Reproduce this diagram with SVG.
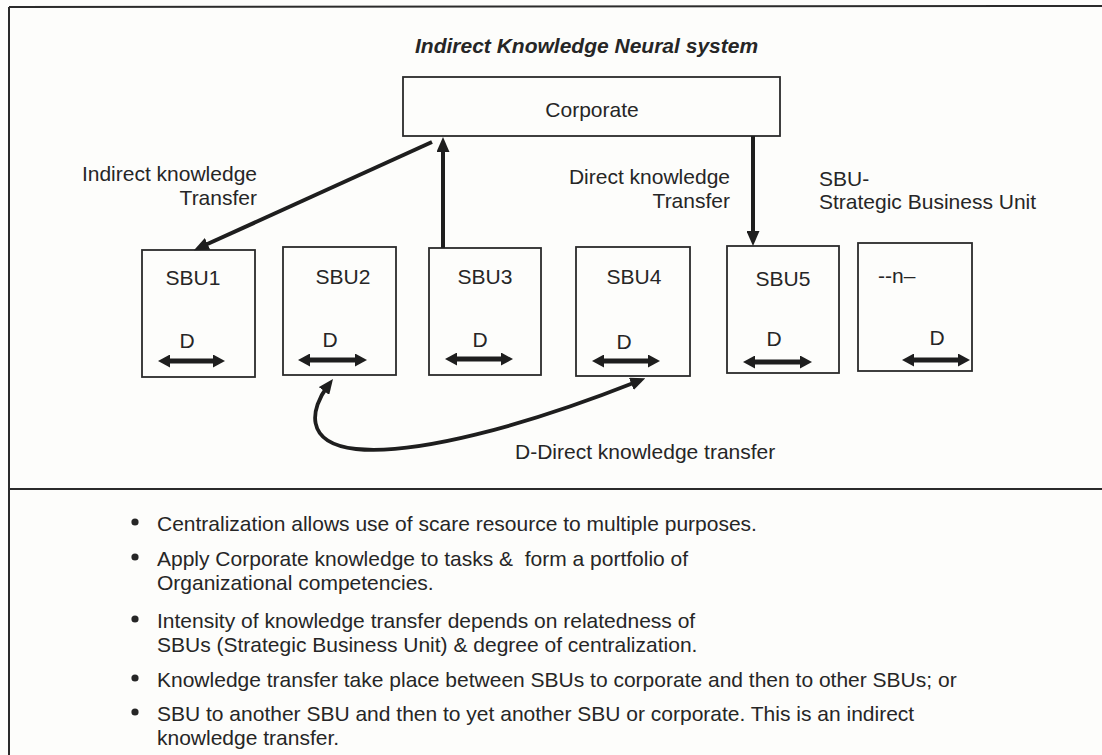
<svg xmlns="http://www.w3.org/2000/svg" width="1102" height="755" viewBox="0 0 1102 755">
  <style>
    text { font-family: "Liberation Sans", Arial, sans-serif; font-size: 21px; fill: #262626; }
    .title { font-weight: bold; font-style: italic; }
    .box { fill: none; stroke: #2b2b2b; stroke-width: 1.8; }
    .frame { stroke: #2b2b2b; stroke-width: 2; fill: none; }
    .conn { stroke: #1e1e1e; stroke-width: 4; fill: none; }
    .dbl { stroke: #1e1e1e; stroke-width: 5; fill: none; }
    .curve { stroke: #1e1e1e; stroke-width: 3.8; fill: none; }
    .mid { text-anchor: middle; }
    .end { text-anchor: end; }
  </style>
  <defs>
    <marker id="head" markerUnits="userSpaceOnUse" viewBox="0 0 15 13" refX="5" refY="6.5" markerWidth="15" markerHeight="13" orient="auto-start-reverse">
      <path d="M0,0 L15,6.5 L0,13 z" fill="#1e1e1e"/>
    </marker>
    <marker id="dhead" markerUnits="userSpaceOnUse" viewBox="0 0 12 13" refX="4" refY="6.5" markerWidth="12" markerHeight="13" orient="auto-start-reverse">
      <path d="M0,0 L12,6.5 L0,13 z" fill="#1e1e1e"/>
    </marker>
  </defs>

  <rect width="1102" height="755" fill="#fdfdfb"/>

  <!-- outer frame: top and left edges, plus the divider above the notes -->
  <g id="frame">
    <line class="frame" x1="9" y1="7" x2="1102" y2="6"/>
    <line class="frame" x1="9" y1="7" x2="9" y2="755"/>
    <line class="frame" x1="9" y1="489" x2="1102" y2="489"/>
  </g>

  <text class="title" x="415" y="53">Indirect Knowledge Neural system</text>

  <g id="corporate">
    <rect class="box" x="403" y="77" width="377" height="59"/>
    <text class="mid" x="592" y="117">Corporate</text>
  </g>

  <g id="sbu1">
    <rect class="box" x="142" y="250" width="113" height="127"/>
    <text class="mid" x="193" y="285">SBU1</text>
    <text class="mid" x="187" y="348">D</text>
    <line class="dbl" x1="166" y1="361" x2="217" y2="361" marker-start="url(#dhead)" marker-end="url(#dhead)"/>
  </g>
  <g id="sbu2">
    <rect class="box" x="283" y="247" width="113" height="128"/>
    <text class="mid" x="343" y="284">SBU2</text>
    <text class="mid" x="330" y="347">D</text>
    <line class="dbl" x1="306" y1="360" x2="359" y2="360" marker-start="url(#dhead)" marker-end="url(#dhead)"/>
  </g>
  <g id="sbu3">
    <rect class="box" x="429" y="248" width="112" height="127"/>
    <text class="mid" x="485" y="284">SBU3</text>
    <text class="mid" x="480" y="347">D</text>
    <line class="dbl" x1="453" y1="359" x2="505" y2="359" marker-start="url(#dhead)" marker-end="url(#dhead)"/>
  </g>
  <g id="sbu4">
    <rect class="box" x="576" y="247" width="114" height="129"/>
    <text class="mid" x="634" y="284">SBU4</text>
    <text class="mid" x="624" y="349">D</text>
    <line class="dbl" x1="600" y1="361" x2="652" y2="361" marker-start="url(#dhead)" marker-end="url(#dhead)"/>
  </g>
  <g id="sbu5">
    <rect class="box" x="727" y="246" width="112" height="127"/>
    <text class="mid" x="783" y="286">SBU5</text>
    <text class="mid" x="774" y="346">D</text>
    <line class="dbl" x1="751" y1="362" x2="804" y2="362" marker-start="url(#dhead)" marker-end="url(#dhead)"/>
  </g>
  <g id="sbu-n">
    <rect class="box" x="858" y="243" width="114" height="128"/>
    <text x="878" y="283">--n–</text>
    <text class="mid" x="937" y="345">D</text>
    <line class="dbl" x1="910" y1="360" x2="962" y2="360" marker-start="url(#dhead)" marker-end="url(#dhead)"/>
  </g>

  <!-- transfer labels -->
  <g id="labels">
    <text class="end" x="257" y="181">Indirect knowledge</text>
    <text class="end" x="257" y="205">Transfer</text>
    <text class="end" x="730" y="184">Direct knowledge</text>
    <text class="end" x="730" y="208">Transfer</text>
    <text x="819" y="186">SBU-</text>
    <text x="819" y="209">Strategic Business Unit</text>
    <text x="515" y="459">D-Direct knowledge transfer</text>
  </g>

  <g id="connectors">
    <!-- corporate down to SBU1 -->
    <line class="conn" x1="432" y1="142" x2="203" y2="246" marker-end="url(#head)"/>
    <!-- SBU3 up to corporate -->
    <line class="conn" x1="443" y1="248" x2="443" y2="147" marker-end="url(#head)"/>
    <!-- corporate down to SBU5 -->
    <line class="conn" x1="753" y1="136" x2="753" y2="236" marker-end="url(#head)"/>
    <!-- direct transfer between SBU2 and SBU4 -->
    <path class="curve" d="M327,387 C312,407 302,443 356,449 C415,455 522,427 636,382" marker-start="url(#head)" marker-end="url(#head)"/>
  </g>

  <g id="notes">
    <circle cx="135" cy="522" r="3.6" fill="#262626"/>
    <text x="157" y="531">Centralization allows use of scare resource to multiple purposes.</text>
    <circle cx="135" cy="557" r="3.6" fill="#262626"/>
    <text x="157" y="566">Apply Corporate knowledge to tasks &amp;&#160; form a portfolio of</text>
    <text x="157" y="590">Organizational competencies.</text>
    <circle cx="135" cy="619" r="3.6" fill="#262626"/>
    <text x="157" y="628">Intensity of knowledge transfer depends on relatedness of</text>
    <text x="157" y="652">SBUs (Strategic Business Unit) &amp; degree of centralization.</text>
    <circle cx="135" cy="678" r="3.6" fill="#262626"/>
    <text x="157" y="687">Knowledge transfer take place between SBUs to corporate and then to other SBUs; or</text>
    <circle cx="135" cy="712" r="3.6" fill="#262626"/>
    <text x="157" y="721">SBU to another SBU and then to yet another SBU or corporate. This is an indirect</text>
    <text x="157" y="745">knowledge transfer.</text>
  </g>
</svg>
